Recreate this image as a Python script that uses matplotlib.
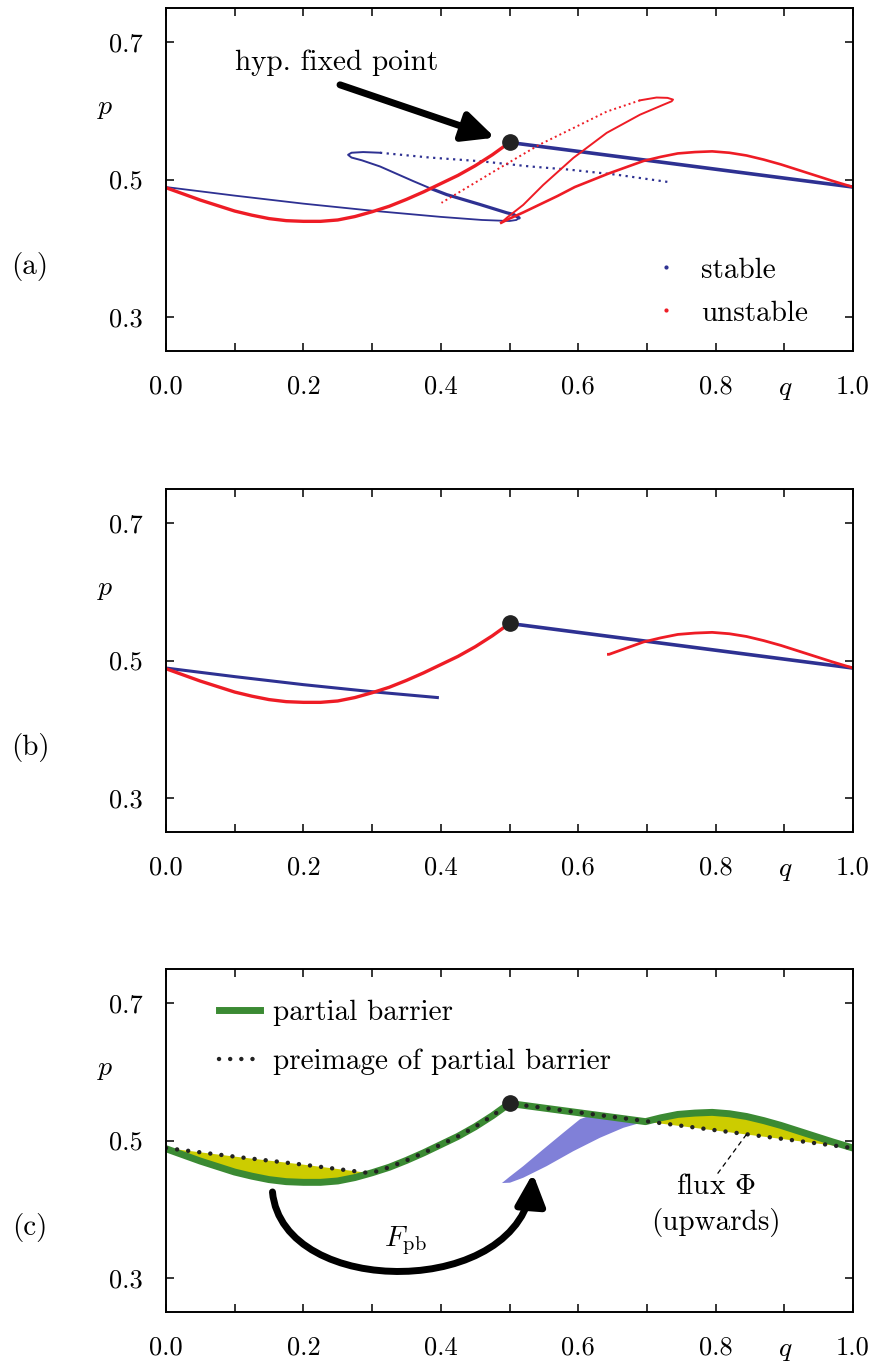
import matplotlib
matplotlib.use("Agg")
import matplotlib.pyplot as plt
from matplotlib.lines import Line2D
from matplotlib.patches import FancyArrowPatch, ArrowStyle
from matplotlib.path import Path
from matplotlib.ticker import MultipleLocator, FormatStrFormatter

plt.rcParams['font.family'] = 'cmr10'
plt.rcParams['mathtext.fontset'] = 'cm'
plt.rcParams['axes.formatter.use_mathtext'] = True
plt.rcParams['font.size'] = 21

# ---- data (q, p) ----
fixed_q, fixed_p = 0.5, 0.554

# stable manifold
stab_right_q = [0.5, 1.0]
stab_right_p = [0.554, 0.489]
stab_low_q = [0.0, 0.1, 0.2, 0.3, 0.4, 0.46, 0.50, 0.51, 0.514]
stab_low_p = [0.489, 0.4765, 0.4648, 0.4545, 0.4455, 0.441, 0.4395, 0.441, 0.444]
stab_back_q = [0.514, 0.506, 0.496, 0.457, 0.4086, 0.385]
stab_back_p = [0.444, 0.449, 0.4515, 0.4636, 0.478, 0.487]
stab_turn_q = [0.385, 0.36, 0.3115, 0.285, 0.270, 0.265, 0.27, 0.287, 0.3115]
stab_turn_p = [0.487, 0.4976, 0.519, 0.528, 0.532, 0.536, 0.539, 0.540, 0.539]
stab_dot_q = [0.3115, 0.384, 0.457, 0.53, 0.5856, 0.656, 0.7336]
stab_dot_p = [0.539, 0.532, 0.5267, 0.519, 0.5145, 0.507, 0.496]

# unstable manifold
unst_left_q = [0.0, 0.025, 0.05, 0.075, 0.1, 0.125, 0.15, 0.175, 0.2, 0.225, 0.25, 0.275,
               0.3, 0.325, 0.35, 0.375, 0.4, 0.425, 0.45, 0.475, 0.5]
unst_left_p = [0.488, 0.479, 0.470, 0.462, 0.454, 0.448, 0.443, 0.440, 0.439, 0.439, 0.441, 0.446,
               0.453, 0.461, 0.471, 0.482, 0.494, 0.506, 0.520, 0.536, 0.554]
unst_arch_q = [0.488, 0.50, 0.52, 0.545, 0.57, 0.595, 0.62, 0.645, 0.67, 0.695, 0.72, 0.745,
               0.77, 0.795, 0.82, 0.845, 0.87, 0.895, 0.92, 0.945, 0.97, 1.0]
unst_arch_p = [0.437, 0.443, 0.452, 0.464, 0.476, 0.489, 0.499, 0.509, 0.518, 0.527, 0.533, 0.538,
               0.540, 0.541, 0.539, 0.535, 0.529, 0.522, 0.514, 0.506, 0.498, 0.489]
unst_up_q = [0.488, 0.497, 0.52, 0.549, 0.593, 0.6415, 0.690, 0.724, 0.736, 0.738, 0.73, 0.714, 0.69]
unst_up_p = [0.437, 0.445, 0.463, 0.492, 0.5315, 0.568, 0.5945, 0.609, 0.614, 0.6165, 0.619, 0.6195, 0.6154]
unst_dot_q = [0.69, 0.6415, 0.593, 0.544, 0.486, 0.401]
unst_dot_p = [0.6154, 0.599, 0.575, 0.551, 0.517, 0.466]

# panel (b): truncated pieces
b_stab_left_q = [0.0, 0.1, 0.2, 0.3, 0.395]
b_stab_left_p = [0.489, 0.4765, 0.4648, 0.4545, 0.446]
b_arch_start = 0.644

# panel (c)
junction_q, junction_p = 0.698, 0.5275
cross_q, cross_p = 0.296, 0.4525
lobe_q = [0.489, 0.50, 0.520, 0.549, 0.578, 0.6026, 0.62, 0.65, 0.695,
          0.6657, 0.6317, 0.593, 0.554, 0.520, 0.5007, 0.489]
lobe_p = [0.438, 0.447, 0.4626, 0.487, 0.511, 0.531, 0.5375, 0.534, 0.527,
          0.5185, 0.504, 0.4845, 0.4626, 0.4457, 0.4385, 0.438]

BLUE = '#2e3192'
RED = '#ee1c25'
GREEN = '#3b8a33'
YELLOW = '#cccc00'
LOBE = '#8080d8'
DOT = '#222222'

W, H = 876, 1364
fig = plt.figure(figsize=(W / 100, H / 100), dpi=100)


def make_axes(top_px):
    ax = fig.add_axes([166 / W, 1 - (top_px + 343) / H, 687 / W, 343 / H])
    ax.set_xlim(0, 1)
    ax.set_ylim(0.25, 0.75)
    ax.xaxis.set_major_locator(MultipleLocator(0.2))
    ax.xaxis.set_minor_locator(MultipleLocator(0.1))
    ax.set_yticks([0.3, 0.5, 0.7])
    ax.xaxis.set_major_formatter(FormatStrFormatter('%.1f'))
    ax.yaxis.set_major_formatter(FormatStrFormatter('%.1f'))
    ax.tick_params(which='both', direction='in', top=True, right=True, length=6, width=1.1,
                   labelsize=19)
    ax.tick_params(axis='x', pad=17)
    ax.tick_params(axis='y', pad=17)
    for s in ax.spines.values():
        s.set_linewidth(1.4)
    ax.text(0.901, 0.1945, '$q$', ha='center', va='center', fontsize=20, clip_on=False)
    ax.text(-0.089, 0.604, '$p$', ha='center', va='center', fontsize=20, clip_on=False)
    return ax


def arrow_style():
    return ArrowStyle('-|>', head_length=0.95, head_width=0.45)


# ---------------- (a) ----------------
ax = make_axes(8)
ax.plot(stab_low_q, stab_low_p, color=BLUE, lw=1.3)
ax.plot(stab_back_q, stab_back_p, color=BLUE, lw=2.3, solid_capstyle='round')
ax.plot(stab_turn_q, stab_turn_p, color=BLUE, lw=1.4)
ax.plot(stab_dot_q, stab_dot_p, color=BLUE, lw=1.6, ls=(0, (1, 2)))
ax.plot(stab_right_q, stab_right_p, color=BLUE, lw=2.6)
ax.plot(unst_up_q, unst_up_p, color=RED, lw=1.4)
ax.plot(unst_dot_q, unst_dot_p, color=RED, lw=1.4, ls=(0, (1, 1.6)))
ax.plot(unst_left_q, unst_left_p, color=RED, lw=2.4)
ax.plot(unst_arch_q, unst_arch_p, color=RED, lw=1.9)
ax.plot(fixed_q, fixed_p, 'o', color=DOT, ms=11, zorder=10)

ax.text(0.249, 0.670, 'hyp. fixed point', ha='center', va='center')
ax.add_patch(FancyArrowPatch((0.2533, 0.638), (0.479, 0.561), arrowstyle=arrow_style(),
                             mutation_scale=20, lw=5, color='black', shrinkA=0, shrinkB=0))
handles = [Line2D([], [], ls='none', marker='.', ms=4, color=BLUE),
           Line2D([], [], ls='none', marker='.', ms=4, color=RED)]
ax.legend(handles, ['stable', 'unstable'], loc='upper left', bbox_to_anchor=(0.685, 0.316),
          frameon=False, borderpad=0, handlelength=1.0, handletextpad=0.7, labelspacing=0.57)
ax.text(-0.198, 0.3735, '(a)', ha='center', va='center', clip_on=False)

# ---------------- (b) ----------------
ax = make_axes(489)
ax.plot(b_stab_left_q, b_stab_left_p, color=BLUE, lw=2.2)
ax.plot(stab_right_q, stab_right_p, color=BLUE, lw=2.6)
ax.plot(unst_left_q, unst_left_p, color=RED, lw=2.4)
arch_q_b = [b_arch_start] + [q for q in unst_arch_q if q > b_arch_start]
arch_p_b = [0.509] + [p for q, p in zip(unst_arch_q, unst_arch_p) if q > b_arch_start]
ax.plot(arch_q_b, arch_p_b, color=RED, lw=2.0)
ax.plot(fixed_q, fixed_p, 'o', color=DOT, ms=11, zorder=10)
ax.text(-0.198, 0.3735, '(b)', ha='center', va='center', clip_on=False)

# ---------------- (c) ----------------
ax = make_axes(969)
arch_q_c = [q for q in unst_arch_q if q > junction_q]
arch_p_c = [p for q, p in zip(unst_arch_q, unst_arch_p) if q > junction_q]
# partial barrier: unstable left, stable up to junction, unstable arch afterwards
pb_q = unst_left_q + [junction_q] + arch_q_c
pb_p = unst_left_p + [junction_p] + arch_p_c
# preimage: stable left to crossing, unstable to fixed point, stable right
stl_q = [q for q in stab_low_q if q < cross_q]
stl_p = [p for q, p in zip(stab_low_q, stab_low_p) if q < cross_q]
left_q = [q for q in unst_left_q if q > cross_q]
left_p = [p for q, p in zip(unst_left_q, unst_left_p) if q > cross_q]
pre_q = stl_q + [cross_q] + left_q + [1.0]
pre_p = stl_p + [cross_p] + left_p + [0.489]

# yellow lobes between barrier and its preimage
yl_q = stl_q + [cross_q] + [q for q in unst_left_q if q < cross_q][::-1]
yl_p = stl_p + [cross_p] + [p for q, p in zip(unst_left_q, unst_left_p) if q < cross_q][::-1]
ax.fill(yl_q, yl_p, color=YELLOW, lw=0)
yr_q = [junction_q] + arch_q_c + [1.0]
yr_p = [junction_p] + arch_p_c + [0.489]
ax.fill(yr_q, yr_p, color=YELLOW, lw=0)
ax.fill(lobe_q, lobe_p, color=LOBE, lw=0)

ax.plot(pb_q, pb_p, color=GREEN, lw=5, solid_joinstyle='round', label='partial barrier')
ax.plot(pre_q, pre_p, color=DOT, lw=3.2, ls=(0, (0.01, 2.5)), dash_capstyle='round',
        label='preimage of partial barrier')
ax.plot(fixed_q, fixed_p, 'o', color=DOT, ms=11, zorder=10)

bez = Path([(0.155, 0.425), (0.17, 0.268), (0.52, 0.268), (0.534, 0.452)],
           [Path.MOVETO, Path.CURVE4, Path.CURVE4, Path.CURVE4])
ax.add_patch(FancyArrowPatch(path=bez, arrowstyle=arrow_style(),
                             mutation_scale=20, lw=5, color='black'))
ax.text(0.349, 0.354, r'$F_{\rm pb}$', ha='center', va='center', fontsize=21)
ax.plot([0.845, 0.802], [0.509, 0.4505], color='black', lw=0.9, ls=(0, (4, 3)))
ax.text(0.80, 0.433, r'flux $\Phi$', ha='center', va='center')
ax.text(0.80, 0.381, '(upwards)', ha='center', va='center')
ax.legend(loc='upper left', bbox_to_anchor=(0.056, 0.952), frameon=False, borderpad=0,
          handlelength=1.4, handletextpad=0.45, labelspacing=0.75)
ax.text(-0.198, 0.3735, '(c)', ha='center', va='center', clip_on=False)

fig.savefig('out.png', dpi=100)
